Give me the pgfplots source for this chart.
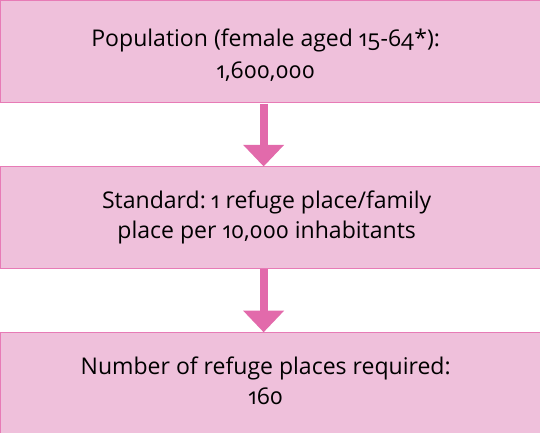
\documentclass[border=0pt]{standalone}
\usepackage{fontspec}
\setmainfont{Open Sans}[Numbers=OldStyle]
\usepackage{pgfplots}
\pgfplotsset{compat=1.18}
\definecolor{boxfill}{HTML}{EFC0DB}
\definecolor{boxdraw}{HTML}{E77BB6}
\definecolor{arrowc}{HTML}{E26AAB}
\begin{document}
\begin{tikzpicture}
\begin{axis}[width=540bp,height=430bp,scale only axis,
  xmin=0,xmax=540,ymin=0,ymax=430,y dir=reverse,hide axis,clip=true]
% boxes
\addplot[fill=boxfill,draw=boxdraw,line width=1.1bp] coordinates {(13,8) (560,8) (560,108) (13,108)} --cycle;
\addplot[fill=boxfill,draw=boxdraw,line width=1.1bp] coordinates {(13,170) (560,170) (560,270) (13,270)} --cycle;
\addplot[fill=boxfill,draw=boxdraw,line width=1.1bp] coordinates {(13,332) (560,332) (560,460) (13,460)} --cycle;
% arrows
\addplot[fill=arrowc,draw=none] coordinates {(266,108.6) (274,108.6) (274,150) (266,150)} --cycle;
\addplot[fill=arrowc,draw=none] coordinates {(250,149) (290,149) (270,170)} --cycle;
\addplot[fill=arrowc,draw=none] coordinates {(266,270.6) (274,270.6) (274,312) (266,312)} --cycle;
\addplot[fill=arrowc,draw=none] coordinates {(250,311) (290,311) (270,332)} --cycle;
% texts
\begin{scope}[every node/.style={anchor=base,inner sep=0pt,font=\fontsize{22.5bp}{27bp}\selectfont}]
\node at (axis cs:272,53) {Population (female aged 15-64*):};
\node at (axis cs:272,84) {1,600,000};
\node at (axis cs:273,211) {Standard:\hspace{-0.12em} 1 refuge place/family};
\node at (axis cs:273,240) {place per 10,000 inhabitants};
\node at (axis cs:272,373) {Number of refuge places required:};
\node at (axis cs:272,403) {160};
\end{scope}
\end{axis}
\end{tikzpicture}
\end{document}
